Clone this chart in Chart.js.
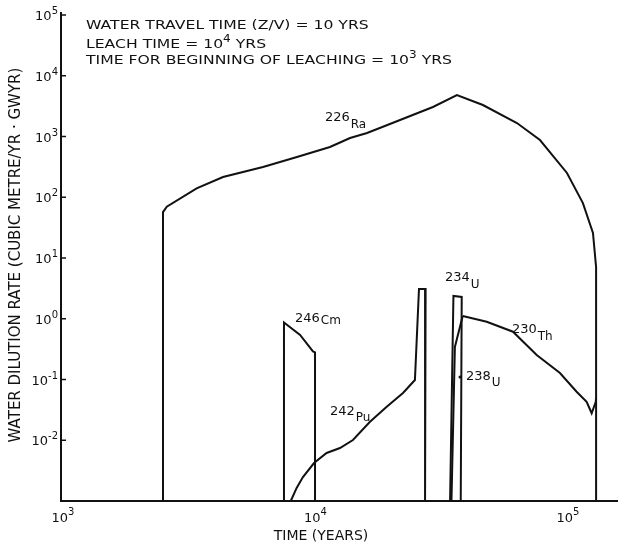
<!DOCTYPE html>
<html><head><meta charset="utf-8">
<script src="https://cdn.jsdelivr.net/npm/chart.js@4/dist/chart.umd.min.js"></script>
<style>html,body{margin:0;padding:0;background:#fff}#wrap{width:618px;height:543px}</style>
</head><body><div id="wrap"><canvas id="c" width="618" height="543"></canvas></div>
<script>
// ---- tick labels ----
const xTickVals = [1e3, 1e4, 1e5];
const xTickExps = ['3', '4', '5'];
const yTickVals = [1e-2, 1e-1, 1e0, 1e1, 1e2, 1e3, 1e4, 1e5];
const yTickExps = ['-2', '-1', '0', '1', '2', '3', '4', '5'];

// ---- series (time in years, water dilution rate) ----
const raX = [2535, 2535, 2624, 3445, 4382, 6310, 8600, 11620, 13960, 16300, 22020, 29730, 36980, 46880, 63930, 78880, 100900, 116700, 127900, 131600, 131600];
const raY = [0.001, 57, 70, 140, 215, 315, 460, 672, 944, 1142, 1870, 3060, 4820, 3300, 1668, 874, 251, 80, 25.8, 7.1, 0.001];

const cmX = [7640, 7640, 8850, 9950, 10140, 10140];
const cmY = [0.001, 0.87, 0.54, 0.29, 0.28, 0.001];

const puX = [8128, 8576, 9082, 10050, 11270, 12730, 14330, 16740, 19500, 22620, 25220, 26170, 27800, 27660];
const puY = [0.001, 0.00164, 0.00248, 0.00422, 0.00617, 0.00745, 0.0101, 0.0202, 0.0356, 0.060, 0.098, 3.09, 3.09, 0.001];

const u234X = [34750, 35830, 38640, 38300];
const u234Y = [0.001, 2.37, 2.28, 0.001];

const u238X = [35190, 36310, 38990];
const u238Y = [0.001, 0.343, 1.11];

const thX = [38990, 48530, 61660, 76560, 94650, 110200, 120700, 126400, 131200, 131600];
const thY = [1.11, 0.893, 0.612, 0.253, 0.128, 0.063, 0.043, 0.0278, 0.043, 0.05];

// ---- curve labels: mass number, element, anchor (data coords) ----
const labNum = ['226', '246', '242', '234', '230', '238'];
const labSym = ['Ra', 'Cm', 'Pu', 'U', 'Th', 'U'];
const labX = [11104, 8447, 11625, 33180, 61090, 40180];
const labY = [2016, 0.99, 0.0292, 4.69, 0.653, 0.110];

const annLines = [
  [['WATER TRAVEL TIME (Z/V) = 10 YRS', 0]],
  [['LEACH TIME = 10', 0], ['4', 1], [' YRS', 0]],
  [['TIME FOR BEGINNING OF LEACHING = 10', 0], ['3', 1], [' YRS', 0]]
];

function pts(xs, ys) { return xs.map((x, i) => ({x: x, y: ys[i]})); }
function ds(xs, ys) {
  return {data: pts(xs, ys), borderColor: '#111', borderWidth: 2, pointRadius: 0, tension: 0, fill: false, clip: 6};
}

const FAM = "'DejaVu Sans', sans-serif";
const INK = '#111';

const deco = {
  id: 'deco',
  afterDraw(chart) {
    const ctx = chart.ctx, ca = chart.chartArea;
    const xs = chart.scales.x, ys = chart.scales.y;
    ctx.save();
    ctx.strokeStyle = INK; ctx.fillStyle = INK; ctx.lineWidth = 2;
    // axes
    ctx.beginPath();
    ctx.moveTo(ca.left, ca.top - 3);
    ctx.lineTo(ca.left, ca.bottom);
    ctx.lineTo(ca.right, ca.bottom);
    ctx.stroke();
    // y ticks (inside) + labels
    ctx.lineWidth = 1.5;
    ctx.textBaseline = 'alphabetic';
    yTickVals.forEach((v, i) => {
      const py = ys.getPixelForValue(v);
      ctx.beginPath(); ctx.moveTo(ca.left, py); ctx.lineTo(ca.left + 5, py); ctx.stroke();
      ctx.font = '13px ' + FAM;
      const wb = ctx.measureText('10').width;
      ctx.font = '10px ' + FAM;
      const we = ctx.measureText(yTickExps[i]).width;
      const right = ca.left - 3;
      ctx.font = '13px ' + FAM; ctx.textAlign = 'left';
      ctx.fillText('10', right - we - wb, py + 5);
      ctx.font = '10px ' + FAM;
      ctx.fillText(yTickExps[i], right - we, py - 1);
    });
    // x tick labels
    xTickVals.forEach((v, i) => {
      const px = xs.getPixelForValue(v);
      ctx.font = '13px ' + FAM;
      const wb = ctx.measureText('10').width;
      ctx.font = '10px ' + FAM;
      const we = ctx.measureText(xTickExps[i]).width;
      const left = px - (wb + we) / 2 + 2;
      ctx.font = '13px ' + FAM; ctx.textAlign = 'left';
      ctx.fillText('10', left, ca.bottom + 21);
      ctx.font = '10px ' + FAM;
      ctx.fillText(xTickExps[i], left + wb, ca.bottom + 14);
    });
    // axis titles
    ctx.font = '14px ' + FAM; ctx.textAlign = 'center';
    ctx.fillText('TIME (YEARS)', 321, 540);
    ctx.save();
    ctx.translate(16, 255); ctx.rotate(-Math.PI / 2);
    ctx.font = '15px ' + FAM; ctx.textAlign = 'center'; ctx.textBaseline = 'middle';
    ctx.fillText('WATER DILUTION RATE (CUBIC METRE/YR \u00B7 GWYR)', 0, 0);
    ctx.restore();
    // annotation lines (wide lettering)
    const fMain = '13px ' + FAM, fSup = '10px ' + FAM;
    function runW(run) { let w = 0; run.forEach(r => { ctx.font = r[1] ? fSup : fMain; w += ctx.measureText(r[0]).width; }); return w; }
    const sx = 366 / runW(annLines[2]);
    const bases = [29, 48, 64];
    ctx.textAlign = 'left'; ctx.textBaseline = 'alphabetic';
    annLines.forEach((run, li) => {
      ctx.save();
      ctx.translate(86, bases[li]); ctx.scale(sx, 1);
      let x = 0;
      run.forEach(r => {
        ctx.font = r[1] ? fSup : fMain;
        ctx.fillText(r[0], x, r[1] ? -6 : 0);
        x += ctx.measureText(r[0]).width;
      });
      ctx.restore();
    });
    // curve labels
    const dys = [7, 2, 6, 7, 7, 6];
    labNum.forEach((t, i) => {
      const px = xs.getPixelForValue(labX[i]), py = ys.getPixelForValue(labY[i]);
      ctx.font = '13px ' + FAM; ctx.textBaseline = 'middle'; ctx.textAlign = 'left';
      ctx.fillText(t, px, py);
      const w = ctx.measureText(t).width;
      ctx.font = '12px ' + FAM;
      ctx.fillText(labSym[i], px + w + 1, py + dys[i]);
    });
    // leader dot for 238U
    const dpx = xs.getPixelForValue(labX[5]) - 6, dpy = ys.getPixelForValue(labY[5]);
    ctx.beginPath(); ctx.arc(dpx, dpy, 1.5, 0, Math.PI * 2); ctx.fill();
    ctx.restore();
  }
};

new Chart(document.getElementById('c'), {
  type: 'line',
  data: {
    datasets: [ds(raX, raY), ds(cmX, cmY), ds(puX, puY), ds(u234X, u234Y), ds(u238X, u238Y), ds(thX, thY)]
  },
  options: {
    responsive: false, animation: false, devicePixelRatio: 1,
    layout: {padding: {left: 61, right: 0, top: 15, bottom: 42}},
    scales: {
      x: {type: 'logarithmic', min: 1000, max: 160700, display: false},
      y: {type: 'logarithmic', min: 0.001, max: 100000, display: false}
    },
    plugins: {legend: {display: false}, tooltip: {enabled: false}, title: {display: false}}
  },
  plugins: [deco]
});
</script>
</body></html>
